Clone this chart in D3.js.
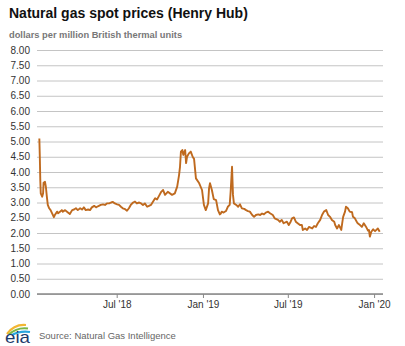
<!DOCTYPE html>
<html>
<head>
<meta charset="utf-8">
<script src="https://cdn.jsdelivr.net/npm/d3@7"></script>
<style>
  body { margin: 0; background: #fff; }
  svg { display: block; }
  text { font-family: "Liberation Sans", Arial, sans-serif; }
</style>
</head>
<body>
<svg id="chart" width="405" height="346"></svg>
<script>
// Henry Hub natural gas spot price, dollars per MMBtu
const dates = [
  "2018-01-17","2018-01-18","2018-01-19","2018-01-20","2018-01-23","2018-01-25","2018-01-26","2018-01-29","2018-01-31",
  "2018-02-02","2018-02-04","2018-02-07","2018-02-10","2018-02-13","2018-02-17","2018-02-19","2018-02-24","2018-02-26",
  "2018-03-02","2018-03-06","2018-03-08","2018-03-13","2018-03-17","2018-03-21","2018-03-23","2018-03-28",
  "2018-04-01","2018-04-05","2018-04-09","2018-04-14","2018-04-18","2018-04-22","2018-04-26",
  "2018-05-01","2018-05-05","2018-05-09","2018-05-14","2018-05-18","2018-05-20","2018-05-24","2018-05-28",
  "2018-06-02","2018-06-06","2018-06-10","2018-06-15","2018-06-19","2018-06-23","2018-06-27",
  "2018-07-02","2018-07-06","2018-07-10","2018-07-14","2018-07-19","2018-07-23","2018-07-27","2018-07-31",
  "2018-08-05","2018-08-09","2018-08-13","2018-08-18","2018-08-22","2018-08-26","2018-08-30",
  "2018-09-04","2018-09-08","2018-09-12","2018-09-16","2018-09-21","2018-09-25","2018-09-29",
  "2018-10-04","2018-10-08","2018-10-12","2018-10-18","2018-10-27",
  "2018-11-02","2018-11-07","2018-11-11","2018-11-13","2018-11-15","2018-11-18","2018-11-20","2018-11-24","2018-11-26","2018-11-28",
  "2018-12-02","2018-12-06","2018-12-10","2018-12-13","2018-12-17","2018-12-24","2018-12-30",
  "2019-01-03","2019-01-07","2019-01-12","2019-01-14","2019-01-16","2019-01-20","2019-01-24","2019-01-29",
  "2019-02-02","2019-02-06","2019-02-08","2019-02-10","2019-02-14","2019-02-19","2019-02-23","2019-02-27",
  "2019-03-01","2019-03-04","2019-03-06","2019-03-08","2019-03-13","2019-03-17","2019-03-21","2019-03-25","2019-03-30",
  "2019-04-03","2019-04-07","2019-04-11","2019-04-16","2019-04-20","2019-04-24","2019-04-29",
  "2019-05-03","2019-05-07","2019-05-11","2019-05-15","2019-05-20","2019-05-24","2019-05-30",
  "2019-06-03","2019-06-10","2019-06-14","2019-06-18","2019-06-22","2019-06-29",
  "2019-07-03","2019-07-07","2019-07-10","2019-07-14","2019-07-18","2019-07-22","2019-07-27","2019-07-31",
  "2019-08-02","2019-08-07","2019-08-11","2019-08-15","2019-08-22","2019-08-26","2019-08-30",
  "2019-09-03","2019-09-08","2019-09-12","2019-09-16","2019-09-21","2019-09-25","2019-09-29",
  "2019-10-03","2019-10-08","2019-10-10","2019-10-14","2019-10-18","2019-10-23","2019-10-25","2019-10-27","2019-10-31",
  "2019-11-02","2019-11-06","2019-11-10","2019-11-15","2019-11-17","2019-11-21","2019-11-25","2019-11-27",
  "2019-12-02","2019-12-06","2019-12-10","2019-12-15","2019-12-19","2019-12-21","2019-12-23","2019-12-26","2019-12-30",
  "2020-01-03","2020-01-07","2020-01-09","2020-01-13"
];
const prices = [
  5.10,4.50,3.74,3.30,3.19,3.30,3.65,3.68,3.50,
  3.19,2.92,2.81,2.75,2.65,2.52,2.59,2.70,2.65,
  2.70,2.75,2.70,2.75,2.70,2.65,2.62,2.75,
  2.77,2.81,2.75,2.81,2.77,2.84,2.75,
  2.77,2.75,2.84,2.89,2.84,2.86,2.89,2.92,
  2.94,2.92,2.97,2.97,3.00,3.02,2.97,
  2.94,2.92,2.86,2.81,2.78,2.73,2.81,2.92,
  3.00,3.03,2.97,3.00,2.97,2.92,2.97,
  2.86,2.89,2.92,3.02,3.14,3.10,3.21,
  3.35,3.41,3.25,3.35,3.25,
  3.30,3.52,3.90,4.17,4.67,4.72,4.56,4.72,4.29,4.50,
  4.61,4.67,4.50,4.43,3.79,3.63,3.41,
  2.92,2.75,2.97,3.47,3.63,3.41,3.11,3.08,
  2.75,2.61,2.64,2.70,2.67,2.72,2.86,2.92,
  3.35,4.17,3.25,2.97,2.92,2.86,2.94,2.81,2.79,
  2.75,2.72,2.70,2.59,2.53,2.59,2.61,
  2.59,2.64,2.61,2.67,2.70,2.65,2.59,
  2.48,2.43,2.37,2.43,2.32,2.37,
  2.26,2.37,2.48,2.51,2.37,2.32,2.26,2.26,
  2.10,2.15,2.10,2.20,2.15,2.23,2.20,
  2.32,2.43,2.59,2.70,2.75,2.59,2.53,
  2.43,2.37,2.26,2.15,2.26,2.10,2.32,2.53,2.70,
  2.86,2.81,2.70,2.68,2.53,2.48,2.37,2.32,
  2.26,2.20,2.32,2.20,2.08,2.10,1.88,2.04,2.12,
  2.06,2.12,2.15,2.04
];
const yTickValues = [0,0.5,1,1.5,2,2.5,3,3.5,4,4.5,5,5.5,6,6.5,7,7.5,8];
const xTickDates = ["2018-07-01","2019-01-01","2019-07-01","2020-01-01"];
const xTickLabels = ["Jul '18","Jan '19","Jul '19","Jan '20"];
const xDomain = ["2018-01-12","2020-01-20"];

const titleText = "Natural gas spot prices (Henry Hub)";
const unitsText = "dollars per million British thermal units";
const sourceText = "Source: Natural Gas Intelligence";

const parse = d3.utcParse("%Y-%m-%d");
const series = dates.map((d, i) => ({ date: parse(d), value: prices[i] }));

const svg = d3.select("#chart");
const plot = { left: 37, right: 383, top: 50, bottom: 294 };

const x = d3.scaleUtc().domain(xDomain.map(parse)).range([plot.left, plot.right]);
const y = d3.scaleLinear().domain([0, 8]).range([plot.bottom, plot.top]);

// Title and units
svg.append("text").attr("x", 9).attr("y", 18)
  .attr("font-size", 14).attr("font-weight", "bold").attr("fill", "#111")
  .text(titleText);
svg.append("text").attr("x", 9).attr("y", 38)
  .attr("font-size", 9.3).attr("font-weight", "bold").attr("fill", "#777")
  .text(unitsText);

// Horizontal gridlines with value labels
const yAxis = d3.axisLeft(y).tickValues(yTickValues)
  .tickSize(-(plot.right - plot.left)).tickPadding(7)
  .tickFormat(d3.format(".2f"));
const gy = svg.append("g").attr("transform", `translate(${plot.left},0)`).call(yAxis);
gy.select(".domain").remove();
gy.selectAll(".tick line").attr("stroke", "#c4c4c4").attr("stroke-width", 1);
gy.selectAll(".tick text").attr("font-size", 10).attr("fill", "#333")
  .attr("font-family", "'Liberation Sans', Arial, sans-serif");

// Bottom axis
const xAxis = d3.axisBottom(x).tickValues(xTickDates.map(parse))
  .tickSize(4).tickPadding(3)
  .tickFormat((d, i) => xTickLabels[i]);
const gx = svg.append("g").attr("transform", `translate(0,${plot.bottom})`).call(xAxis);
gx.select(".domain").attr("stroke", "#888").attr("stroke-width", 1.3)
  .attr("d", `M${plot.left},0H${plot.right}`);
gx.selectAll(".tick line").attr("stroke", "#888");
gx.selectAll(".tick text").attr("font-size", 10).attr("fill", "#333")
  .attr("font-family", "'Liberation Sans', Arial, sans-serif");

// Price line
const line = d3.line().x(d => x(d.date)).y(d => y(d.value));
svg.append("path").datum(series)
  .attr("fill", "none").attr("stroke", "#bf6a1f").attr("stroke-width", 1.9)
  .attr("stroke-linejoin", "round").attr("d", line);

// Footer: logo and source
const logo = svg.append("g").attr("transform", "translate(5,324)");
logo.append("path").attr("d", "M2,10 Q9,0 21,1").attr("fill", "none").attr("stroke", "#f2b632").attr("stroke-width", 2.2);
logo.append("path").attr("d", "M4,10.5 Q12,3 23,4.5").attr("fill", "none").attr("stroke", "#7ab648").attr("stroke-width", 2.2);
logo.append("path").attr("d", "M7,11 Q15,6.5 25,8").attr("fill", "none").attr("stroke", "#2aa6de").attr("stroke-width", 2.2);
logo.append("text").attr("x", 0).attr("y", 19).attr("font-size", 17)
  .attr("textLength", 25).attr("lengthAdjust", "spacingAndGlyphs")
  .attr("font-family", "'DejaVu Serif', serif").attr("fill", "#1b3a6b").text("eia");
svg.append("text").attr("x", 39).attr("y", 339)
  .attr("font-size", 9.5).attr("fill", "#666").text(sourceText);
</script>
</body>
</html>
